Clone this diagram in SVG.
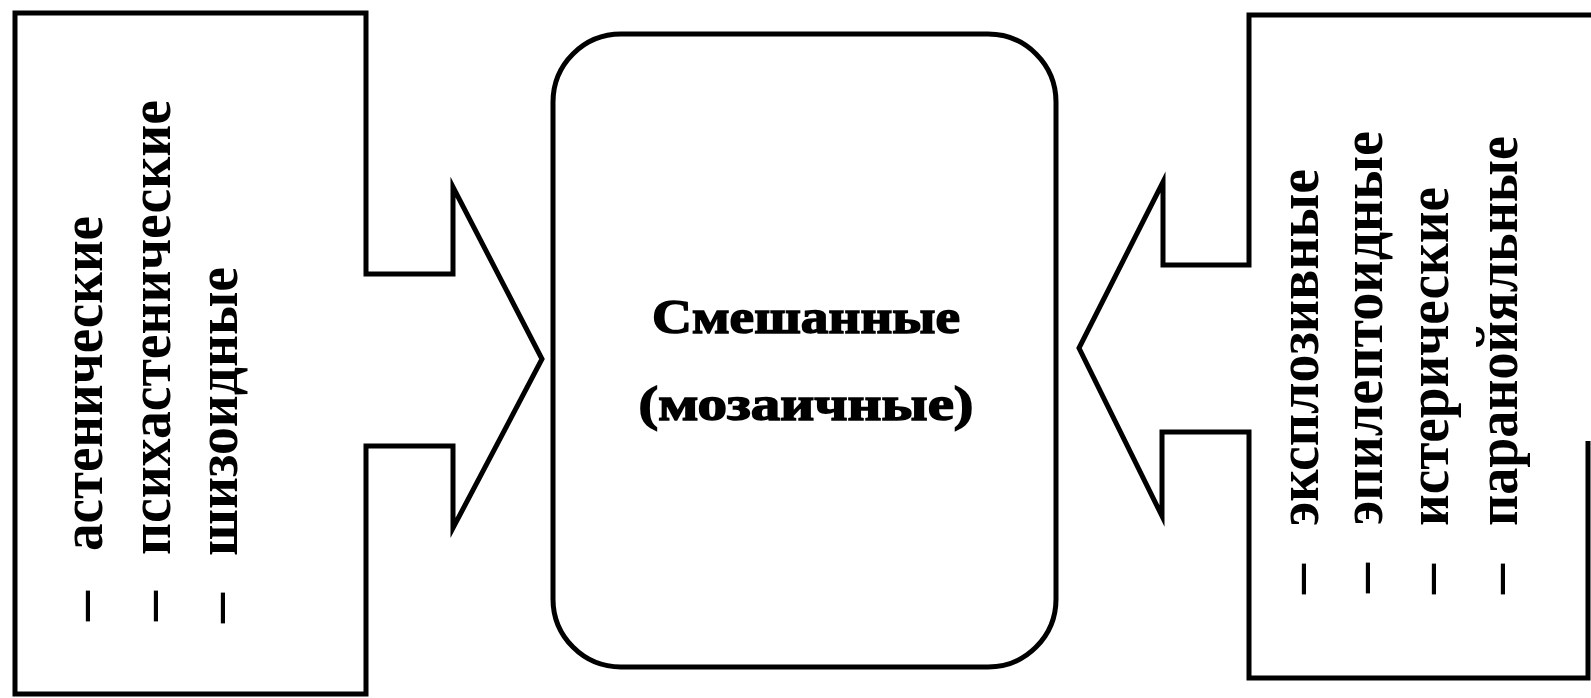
<svg xmlns="http://www.w3.org/2000/svg" width="1591" height="698" viewBox="0 0 1591 698">
  <style>
    .outline { fill: none; stroke: #000; stroke-width: 5; stroke-linejoin: miter; stroke-miterlimit: 10; }
    .item { font-family: "Liberation Serif", "Times New Roman", serif; font-weight: bold; font-size: 60px; fill: #000; }
    .title { font-family: "Liberation Serif", "Times New Roman", serif; font-weight: bold; font-size: 48px; fill: #000; stroke: #000; stroke-width: 1.5; text-anchor: middle; }
  </style>
  <rect x="0" y="0" width="1591" height="698" fill="#fff"/>

  <g id="left-box">
    <path class="outline" d="M15,13 H366 V274 H453 V187 L542,359 L453,528 V446 H366 V694 H15 Z"/>
    <g transform="translate(102,621) rotate(-90)">
      <text class="item" x="0" y="0">–</text>
      <text class="item" x="70" y="0" textLength="335" lengthAdjust="spacingAndGlyphs">астенические</text>
    </g>
    <g transform="translate(170,621) rotate(-90)">
      <text class="item" x="0" y="0">–</text>
      <text class="item" x="66" y="0" textLength="455" lengthAdjust="spacingAndGlyphs">психастенические</text>
    </g>
    <g transform="translate(237,623) rotate(-90)">
      <text class="item" x="0" y="0">–</text>
      <text class="item" x="67" y="0" textLength="289" lengthAdjust="spacingAndGlyphs">шизоидные</text>
    </g>
  </g>

  <g id="center-box">
    <rect class="outline" x="553" y="34" width="503" height="633" rx="68" ry="68"/>
    <text class="title" x="806" y="333" textLength="308" lengthAdjust="spacingAndGlyphs">Смешанные</text>
    <text class="title" x="806" y="420" textLength="335" lengthAdjust="spacingAndGlyphs">(мозаичные)</text>
  </g>

  <g id="right-box">
    <path class="outline" d="M1591,15 H1249 V265 H1163 V182 L1079,348 L1162,516 V432 H1249 V678 H1588 V441"/>
    <g transform="translate(1318,594) rotate(-90)">
      <text class="item" x="0" y="0">–</text>
      <text class="item" x="68" y="0" textLength="357" lengthAdjust="spacingAndGlyphs">эксплозивные</text>
    </g>
    <g transform="translate(1382,593) rotate(-90)">
      <text class="item" x="0" y="0">–</text>
      <text class="item" x="68" y="0" textLength="394" lengthAdjust="spacingAndGlyphs">эпилептоидные</text>
    </g>
    <g transform="translate(1448,594) rotate(-90)">
      <text class="item" x="0" y="0">–</text>
      <text class="item" x="68" y="0" textLength="339" lengthAdjust="spacingAndGlyphs">истерические</text>
    </g>
    <g transform="translate(1517,594) rotate(-90)">
      <text class="item" x="0" y="0">–</text>
      <text class="item" x="68" y="0" textLength="390" lengthAdjust="spacingAndGlyphs">паранойяльные</text>
    </g>
  </g>

  <g id="connectors"></g>
</svg>
